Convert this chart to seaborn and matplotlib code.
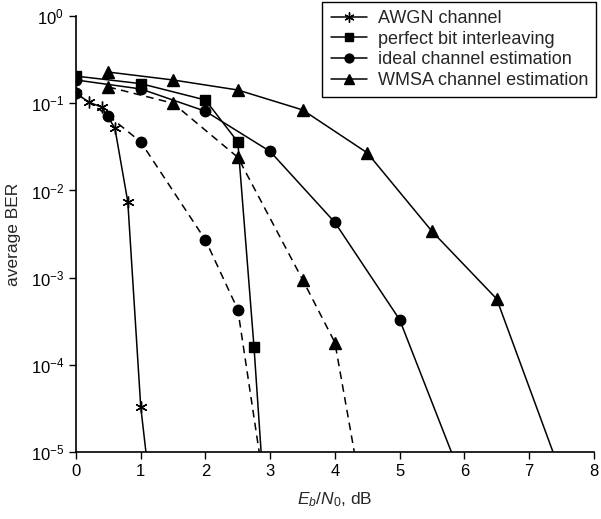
import pandas as pd
import numpy as np
import matplotlib
matplotlib.use('Agg')
import matplotlib.pyplot as plt
import seaborn as sns

# datos (Eb/N0 en dB, BER)
awgn_x = [0, 0.2, 0.4, 0.6, 0.8, 1.0, 1.08]
awgn_y = [0.13, 0.103, 0.09, 0.052, 0.0074, 3.3e-5, 1e-5]

pbi_x = [0, 1, 2, 2.5, 2.75, 2.86]
pbi_y = [0.205, 0.168, 0.109, 0.036, 1.6e-4, 1e-5]

ideal_x = [0, 1, 2, 3, 4, 5, 5.8]
ideal_y = [0.185, 0.146, 0.081, 0.028, 0.0043, 3.3e-4, 1e-5]

ideal_d_x = [0, 0.5, 1, 2, 2.5, 2.83]
ideal_d_y = [0.13, 0.072, 0.036, 0.0027, 4.3e-4, 1e-5]

wmsa_x = [0.5, 1.5, 2.5, 3.5, 4.5, 5.5, 6.5, 7.37]
wmsa_y = [0.228, 0.185, 0.142, 0.084, 0.027, 0.0034, 5.7e-4, 1e-5]

wmsa_d_x = [0.5, 1.5, 2.5, 3.5, 4, 4.3]
wmsa_d_y = [0.154, 0.1, 0.024, 9.5e-4, 1.8e-4, 1e-5]

# marker de asterisco (6 brazos)
star = (6, 2, 0)

sns.set_style('ticks')
plt.rcParams['font.family'] = ['Liberation Sans', 'DejaVu Sans']
plt.rcParams['mathtext.fontset'] = 'custom'
plt.rcParams['mathtext.rm'] = 'Liberation Sans'
plt.rcParams['mathtext.it'] = 'Liberation Sans:italic'

fig = plt.figure(figsize=(6.01, 5.19), dpi=100)
ax = fig.add_axes([0.1265, 0.129, 0.8615, 0.840])

series = [
    (awgn_x, awgn_y, star, '-', 'AWGN channel', 8.5),
    (pbi_x, pbi_y, 's', '-', 'perfect bit interleaving', 6.5),
    (ideal_x, ideal_y, 'o', '-', 'ideal channel estimation', 7.5),
    (wmsa_x, wmsa_y, '^', '-', 'WMSA channel estimation', 8),
    (ideal_d_x, ideal_d_y, 'o', (0, (5, 3.5)), None, 7.5),
    (wmsa_d_x, wmsa_d_y, '^', (0, (5, 3.5)), None, 8),
]

for xs, ys, mk, ls, lab, ms in series:
    df = pd.DataFrame({'x': xs, 'y': ys})
    kw = dict(label=lab) if lab else dict(legend=False)
    # el ultimo punto solo marca donde la curva corta el eje, sin marcador
    sns.lineplot(data=df, x='x', y='y', ax=ax, color='black', marker=mk,
                 markersize=ms, markeredgecolor='black', markeredgewidth=1.0,
                 markevery=list(range(len(xs) - 1)),
                 linestyle=ls, linewidth=1.1, **kw)

ax.set_yscale('log')
ax.set_xlim(0, 8)
ax.set_ylim(1e-5, 1)
ax.set_xticks(range(0, 9))
ax.set_yticks([1e-5, 1e-4, 1e-3, 1e-2, 1e-1, 1])
ax.minorticks_off()
ax.tick_params(labelsize=12, length=5, width=1, direction='out', colors='black')
sns.despine(ax=ax)
for s in ['left', 'bottom']:
    ax.spines[s].set_linewidth(1.2)
    ax.spines[s].set_color('black')

ax.set_xlabel('$E_b/N_0$, dB', fontsize=12.5, labelpad=8)
ax.set_ylabel('average BER', fontsize=12.5, labelpad=7)

leg = ax.legend(loc='upper right', bbox_to_anchor=(596 / 601, 1 - 2 / 519),
                bbox_transform=fig.transFigure, fontsize=13, frameon=True,
                fancybox=False, edgecolor='black', framealpha=1,
                handlelength=2.0, labelspacing=0.2, borderpad=0.45,
                handletextpad=0.6, markerscale=0.85, borderaxespad=0)
leg.get_frame().set_linewidth(1.0)

fig.savefig('out.png', dpi=100)
